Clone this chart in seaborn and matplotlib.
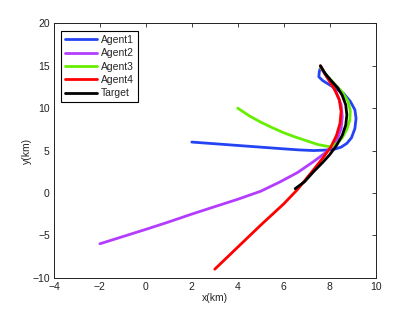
import pandas as pd
import matplotlib
matplotlib.use("Agg")
import matplotlib.pyplot as plt
import seaborn as sns

# trajectories (km)
agent1_x = [2.0, 3.0, 4.0, 5.0, 6.0, 6.7, 7.3, 7.8, 8.2, 8.5, 8.75, 8.95, 9.1, 9.15, 9.1, 8.9, 8.6, 8.15, 7.7, 7.53, 7.55, 7.6]
agent1_y = [6.0, 5.8, 5.6, 5.4, 5.2, 5.07, 5.0, 5.05, 5.15, 5.4, 5.85, 6.5, 7.6, 8.8, 9.8, 10.8, 11.75, 12.5, 13.25, 13.7, 14.3, 14.8]

agent2_x = [-2.0, -1.0, 0.0, 1.0, 2.0, 3.0, 4.0, 5.0, 5.84, 6.6, 7.3, 7.8, 8.1, 8.35, 8.5, 8.55, 8.5, 8.3, 8.0, 7.6]
agent2_y = [-6.0, -5.15, -4.3, -3.42, -2.5, -1.62, -0.75, 0.2, 1.3, 2.4, 3.7, 4.7, 5.5, 6.5, 7.6, 9.0, 10.4, 11.8, 13.2, 14.8]

agent3_x = [4.0, 4.5, 5.0, 5.5, 6.0, 6.5, 7.0, 7.5, 8.0, 8.3, 8.55, 8.75, 8.88, 8.9, 8.8, 8.55, 8.2, 7.9, 7.6]
agent3_y = [10.0, 9.1, 8.35, 7.7, 7.1, 6.6, 6.15, 5.7, 5.45, 5.8, 6.5, 7.5, 8.6, 9.7, 10.8, 11.9, 12.9, 13.8, 14.8]

agent4_x = [3.0, 4.0, 5.0, 6.0, 6.6, 7.2, 7.7, 8.05, 8.3, 8.45, 8.5, 8.42, 8.2, 7.9, 7.6]
agent4_y = [-9.0, -6.4, -3.8, -1.3, 0.4, 2.4, 4.1, 5.4, 6.8, 8.2, 9.6, 11.0, 12.3, 13.6, 15.0]

target_x = [6.5, 6.9, 7.3, 7.7, 8.0, 8.3, 8.55, 8.7, 8.75, 8.7, 8.55, 8.35, 8.05, 7.8, 7.6]
target_y = [0.5, 1.3, 2.5, 3.6, 4.5, 5.6, 6.8, 8.0, 9.2, 10.4, 11.5, 12.4, 13.3, 14.1, 15.0]

names = ["Agent1", "Agent2", "Agent3", "Agent4", "Target"]
xs = [agent1_x, agent2_x, agent3_x, agent4_x, target_x]
ys = [agent1_y, agent2_y, agent3_y, agent4_y, target_y]

rows = []
for name, xx, yy in zip(names, xs, ys):
    for i, (a, b) in enumerate(zip(xx, yy)):
        rows.append({"name": name, "step": i, "x": a, "y": b})
df = pd.DataFrame(rows)

palette = {"Agent1": "#2444f4", "Agent2": "#b43cff", "Agent3": "#66ee00",
           "Agent4": "#ff0000", "Target": "#000000"}

sns.set_theme(style="white")
plt.rcParams["font.family"] = ["Liberation Sans", "DejaVu Sans"]

fig = plt.figure(figsize=(4.15, 3.12), dpi=100)
ax = fig.add_axes([0.13, 0.11, 0.775, 0.815])

sns.lineplot(data=df, x="x", y="y", hue="name", units="name", estimator=None,
             sort=False, palette=palette, linewidth=2, ax=ax)

ax.set_xlim(-4, 10)
ax.set_ylim(-10, 20)
ax.set_xticks(range(-4, 11, 2))
ax.set_yticks(range(-10, 21, 5))
ax.set_xlabel("x(km)", fontsize=7.5, labelpad=1)
ax.set_ylabel("y(km)", fontsize=7.5, labelpad=0)
ax.tick_params(direction="in", top=True, right=True, length=3, width=0.6,
               labelsize=7.5, pad=3, colors="#222222")
for s in ax.spines.values():
    s.set_color("#222222")
    s.set_linewidth(0.7)

leg = ax.legend(loc="upper left", fontsize=7.5, fancybox=False, framealpha=1,
                edgecolor="black", handlelength=3.0, handletextpad=0.4,
                labelspacing=0.32, borderaxespad=0.7, borderpad=0.4)
leg.get_frame().set_linewidth(0.8)

fig.savefig("out.png", dpi=100)
